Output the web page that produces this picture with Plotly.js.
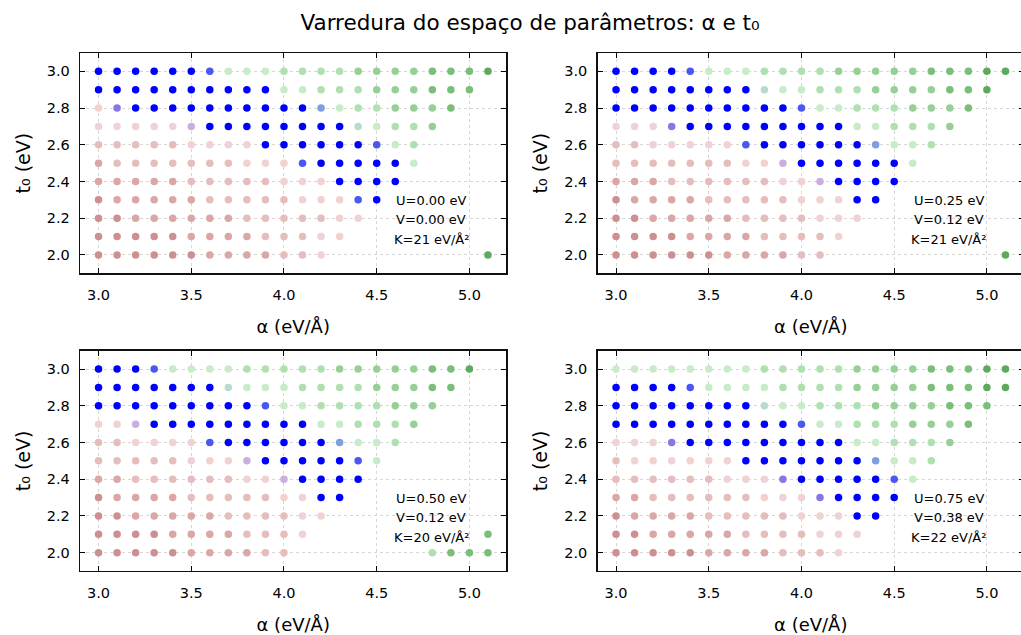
<!DOCTYPE html>
<html>
<head>
<meta charset="utf-8">
<script src="https://cdn.plot.ly/plotly-3.0.1.min.js"></script>
<style>
  html, body { margin: 0; padding: 0; overflow: hidden; background: #fff; }
  #chart { width: 1030px; height: 635px; }
</style>
</head>
<body>
<div id="chart"></div>
<script>
// ---- data ----
const alphaValues = [3.0, 3.1, 3.2, 3.3, 3.4, 3.5, 3.6, 3.7, 3.8, 3.9, 4.0,
                     4.1, 4.2, 4.3, 4.4, 4.5, 4.6, 4.7, 4.8, 4.9, 5.0, 5.1];
const t0Values = [3.0, 2.9, 2.8, 2.7, 2.6, 2.5, 2.4, 2.3, 2.2, 2.1, 2.0];

// Phase class per grid point (rows: t0 = 3.0 ... 2.0, columns: alpha = 3.0 ... 5.1)
// '.' = no point; '1'-'4' = insulating (dark -> light); 'B','b','c','p','q','t' = metallic / mixed;
// '5'-'9' = third phase (light -> dark)
const gridPanel1 = [
  "BBBBBBb555666677778889",
  "BBBBBBBBBB55666777888.",
  "4pBBBBBBBBBBc5667778..",
  "44444qBBBBBBBBt5667...",
  "333334444BBBBBBb56....",
  "23333333444bBBBBB5....",
  "2222233333444BBBB.....",
  "12222233333444bB......",
  "112222223333344.......",
  "11111222233344........",
  "1111112222334........9"
];
const gridPanel2 = [
  "BBBBb55566667777788899",
  "BBBBBBBBt556667777889.",
  "BBBBBBBBBBb556667778..",
  "444pBBBBBBBBB556667...",
  "3344444bBBBBBBc556....",
  "333333344qBBBBBB5.....",
  "22233333344qBBBB......",
  "1222233333444BB.......",
  "11222223333444........",
  "1111222233334.........",
  "111111222233.........9"
];
const gridPanel3 = [
  "BBBb55556666677777889.",
  "BBBBBBBt555666677788..",
  "BBBBBBBBBb556666777...",
  "44qBBBBBBBBB556667....",
  "334444bBBBBBBc556.....",
  "33333444qBBBBBb5......",
  "2233333344qBBBB.......",
  "122223333344BB........",
  "1122222333344.........",
  "111122223334.........8",
  "11111222233.......6888"
];
const gridPanel4 = [
  "5555555566666777788899",
  "BBBBb55556666777788899",
  "BBBBBBBBt556667777888.",
  "BBBBBBBBBBb556667778..",
  "444pBBBBBBBBB556667...",
  "3444444BBBBBBBc556....",
  "333333444pBBBBBb5.....",
  "22333333444pBBBB......",
  "1222233333444BB.......",
  "11222223333444........",
  "1111122223334........."
];
const panelGrids = [gridPanel1, gridPanel2, gridPanel3, gridPanel4];
const uValues = ["0.00", "0.25", "0.50", "0.75"];
const vValues = ["0.00", "0.12", "0.12", "0.38"];
const kValues = ["21", "21", "20", "22"];

// ---- style ----
const classColors = {
  "1": "#cd8f8f", "2": "#daa6a6", "3": "#e6bdbd", "4": "#f1d2d2",
  "B": "#0000ff", "b": "#4a58f0", "c": "#7f9ee0", "p": "#8a76e2", "q": "#cbaee0", "t": "#b6dccf",
  "5": "#c8ebc8", "6": "#b0dfb0", "7": "#97d097", "8": "#7abe7a", "9": "#5daa5d"
};
const FONT = "DejaVu Sans, Liberation Sans, sans-serif";
const W = 1030, H = 635;

const traces = [];
panelGrids.forEach((grid, k) => {
  const xs = [], ys = [], cs = [];
  grid.forEach((row, i) => {
    for (let j = 0; j < row.length; j++) {
      const code = row[j];
      if (code === ".") continue;
      xs.push(alphaValues[j]);
      ys.push(t0Values[i]);
      cs.push(classColors[code]);
    }
  });
  const n = k === 0 ? "" : String(k + 1);
  traces.push({
    type: "scatter", mode: "markers",
    x: xs, y: ys,
    xaxis: "x" + n, yaxis: "y" + n,
    marker: { size: 7.5, color: cs, line: { width: 0 } },
    hoverinfo: "x+y", showlegend: false
  });
});

const xDomL = [0, 0.4518], xDomR = [0.5482, 1];
const yDomT = [0.5747, 1], yDomB = [0, 0.4253];

function xAxis(domain, anchor) {
  return {
    domain: domain, anchor: anchor, range: [2.9, 5.2],
    tick0: 3.0, dtick: 0.5, tickformat: ".1f",
    ticks: "inside", ticklen: 5, tickwidth: 1, tickcolor: "#000",
    showline: true, linecolor: "#111", linewidth: 1.3, mirror: "ticks",
    showgrid: true, gridcolor: "#d6d6d6", griddash: "dot", gridwidth: 1,
    zeroline: false, ticklabelstandoff: 8,
    tickfont: { family: FONT, size: 14.5, color: "#000" },
    title: { text: "α (eV/Å)", font: { family: FONT, size: 18, color: "#000" }, standoff: 18 }
  };
}
function yAxis(domain, anchor) {
  return {
    domain: domain, anchor: anchor, range: [1.9, 3.1],
    tick0: 2.0, dtick: 0.2, tickformat: ".1f",
    ticks: "inside", ticklen: 5, tickwidth: 1, tickcolor: "#000",
    showline: true, linecolor: "#111", linewidth: 1.3, mirror: "ticks",
    showgrid: true, gridcolor: "#d6d6d6", griddash: "dot", gridwidth: 1,
    zeroline: false, ticklabelstandoff: 6,
    tickfont: { family: FONT, size: 14.5, color: "#000" },
    title: { text: "t₀ (eV)", font: { family: FONT, size: 19, color: "#000" }, standoff: 11 }
  };
}

const annotations = [];
const annoY = [0.331, 0.243, 0.154];
panelGrids.forEach((g, k) => {
  const n = k === 0 ? "" : String(k + 1);
  const lines = [
    "U=" + uValues[k] + " eV",
    "V=" + vValues[k] + " eV",
    "K=" + kValues[k] + " eV/Å²"
  ];
  lines.forEach((txt, li) => {
    annotations.push({
      xref: "x" + n + " domain", yref: "y" + n + " domain",
      x: 0.824, y: annoY[li], xanchor: "center", yanchor: "middle",
      text: txt, showarrow: false,
      font: { family: FONT, size: 13, color: "#000" }
    });
  });
});

const layout = {
  width: W, height: H,
  margin: { l: 80, r: 6, t: 53, b: 64 },
  paper_bgcolor: "#fff", plot_bgcolor: "#fff",
  title: {
    text: "Varredura do espaço de parâmetros: α e t₀",
    x: 530 / W, xanchor: "center", xref: "container",
    y: 1 - 22 / H, yanchor: "middle", yref: "container",
    font: { family: FONT, size: 21.5, color: "#000" }
  },
  xaxis: xAxis(xDomL, "y"), yaxis: yAxis(yDomT, "x"),
  xaxis2: xAxis(xDomR, "y2"), yaxis2: yAxis(yDomT, "x2"),
  xaxis3: xAxis(xDomL, "y3"), yaxis3: yAxis(yDomB, "x3"),
  xaxis4: xAxis(xDomR, "y4"), yaxis4: yAxis(yDomB, "x4"),
  annotations: annotations,
  showlegend: false
};

Plotly.newPlot("chart", traces, layout, { displayModeBar: false, staticPlot: true });
</script>
</body>
</html>
